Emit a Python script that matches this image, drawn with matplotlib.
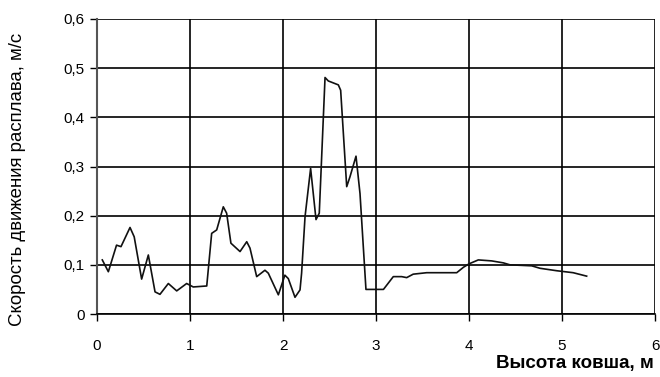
import matplotlib
matplotlib.use("Agg")
import matplotlib.pyplot as plt
from matplotlib.ticker import FuncFormatter

plt.rcParams['font.family'] = ['Liberation Sans', 'DejaVu Sans']

height_m = [0.057, 0.122, 0.21, 0.258, 0.355, 0.40, 0.48, 0.552, 0.624, 0.677,
            0.767, 0.857, 0.964, 1.035, 1.18, 1.233, 1.287, 1.358, 1.394, 1.44,
            1.538, 1.61, 1.645, 1.717, 1.806, 1.842, 1.95, 2.02, 2.057, 2.129,
            2.183, 2.20, 2.237, 2.297, 2.355, 2.39, 2.452, 2.487, 2.595, 2.62,
            2.685, 2.72, 2.785, 2.828, 2.892, 2.953, 3.08, 3.186, 3.276, 3.33,
            3.40, 3.545, 3.868, 3.94, 4.0, 4.10, 4.244, 4.369, 4.44, 4.674,
            4.763, 4.943, 5.12, 5.265]
speed = [0.110, 0.086, 0.140, 0.137, 0.176, 0.157, 0.071, 0.120, 0.045, 0.040,
         0.062, 0.047, 0.062, 0.055, 0.057, 0.164, 0.171, 0.218, 0.205, 0.144,
         0.127, 0.147, 0.134, 0.076, 0.089, 0.083, 0.039, 0.079, 0.072, 0.034,
         0.049, 0.083, 0.198, 0.296, 0.192, 0.205, 0.481, 0.474, 0.466, 0.455,
         0.259, 0.279, 0.321, 0.245, 0.050, 0.050, 0.050, 0.076, 0.076, 0.074,
         0.081, 0.084, 0.084, 0.095, 0.102, 0.110, 0.108, 0.104, 0.100, 0.098,
         0.093, 0.088, 0.084, 0.077]

x_ticks = [0, 1, 2, 3, 4, 5, 6]
y_ticks = [0, 0.1, 0.2, 0.3, 0.4, 0.5, 0.6]

fig = plt.figure(figsize=(6.6, 3.77), dpi=100)
ax = fig.add_axes([97/660, 1 - 314/377, (655 - 97)/660, (314 - 19)/377])

ax.plot(height_m, speed, color='#111111', linewidth=1.2)

ax.set_xlim(0, 6)
ax.set_ylim(0, 0.6)
ax.set_xticks(x_ticks)
ax.set_yticks(y_ticks)
ax.yaxis.set_major_formatter(FuncFormatter(lambda v, p: '0' if abs(v) < 1e-9 else f'{v:.1f}'.replace('.', ',')))
ax.xaxis.set_major_formatter(FuncFormatter(lambda v, p: f'{int(round(v))}'))
ax.grid(True, color='black', linewidth=1.2)
ax.set_axisbelow(True)
for s in ['top', 'right']:
    ax.spines[s].set_visible(False)
ax.spines['left'].set_color('#555555')
ax.spines['left'].set_linewidth(1.5)
ax.spines['bottom'].set_color('black')
ax.spines['bottom'].set_linewidth(1.2)
ax.tick_params(axis='both', direction='out', length=5, width=1, labelsize=11, colors='black')
ax.tick_params(axis='x', pad=13)
ax.tick_params(axis='y', pad=4)

fig.text(654/660, 1 - 368/377, 'Высота ковша, м', ha='right', va='baseline',
         fontsize=13.5, fontweight='bold')
ax.set_ylabel('Скорость движения расплава, м/с', fontsize=13.4)
ax.yaxis.set_label_coords(-0.127, 0.455)

fig.savefig('out.png', dpi=100, facecolor='white')
